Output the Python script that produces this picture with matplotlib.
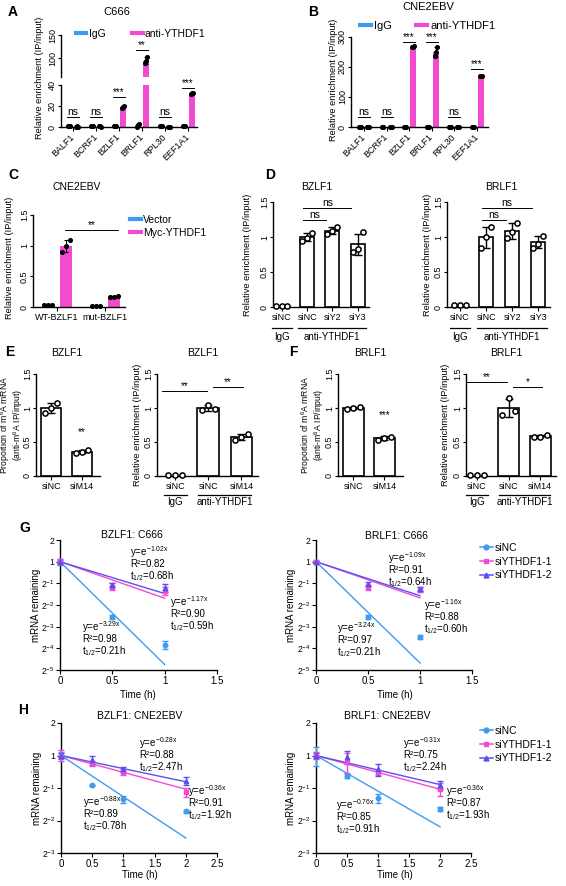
import numpy as np
import matplotlib
matplotlib.use("Agg")
import matplotlib.pyplot as plt
from matplotlib.lines import Line2D
from matplotlib.ticker import NullLocator

plt.rcParams['font.family'] = ['Liberation Sans', 'DejaVu Sans']
plt.rcParams['mathtext.fontset'] = 'custom'
plt.rcParams['mathtext.rm'] = 'Liberation Sans'
plt.rcParams['mathtext.it'] = 'Liberation Sans:italic'
plt.rcParams['axes.linewidth'] = 1.0

# ---
# data
# ---

blue = "#3d9cf2"
pink = "#f24bd0"
violet = "#5a50f0"

# A: RIP-qPCR, C666
a_genes = ["BALF1", "BCRF1", "BZLF1", "BRLF1", "RPL30", "EEF1A1"]
a_igg = [[0.9, 1.1, 1.0], [1.0, 1.2, 0.9], [0.8, 0.9, 1.0], [0.4, 1.8, 2.8], [0.7, 0.9, 0.8], [0.6, 0.8, 0.7]]
a_anti = [[0.3, 0.5, 0.4], [0.5, 0.6, 0.4], [18.5, 19.5, 20.2], [89, 95, 102], [0.2, 0.3, 0.2], [31.6, 32.0, 32.4]]
a_sig = ["ns", "ns", "***", "**", "ns", "***"]
a_sig_y = [9.5, 9.5, 28.5, 118, 9.5, 37]

# B: RIP-qPCR, CNE2EBV
b_genes = ["BALF1", "BCRF1", "BZLF1", "BRLF1", "RPL30", "EEF1A1"]
b_igg = [[1.0, 1.5, 1.2], [1.2, 1.0, 1.4], [1.0, 1.3, 1.1], [0.9, 1.2, 1.0], [1.1, 1.0, 1.3], [1.0, 1.2, 0.9]]
b_anti = [[1.2, 1.0, 1.3], [1.1, 1.4, 1.0], [265, 268, 271], [235, 250, 266], [1.3, 1.0, 1.2], [169, 170, 171]]
b_sig = ["ns", "ns", "***", "***", "ns", "***"]
b_sig_y = [33, 33, 283, 283, 33, 193]

# C: WT vs mut BZLF1
c_groups = ["WT-BZLF1", "mut-BZLF1"]
c_vector = [[0.03, 0.03, 0.03], [0.01, 0.01, 0.01]]
c_myc = [[0.9, 1.0, 1.1], [0.16, 0.17, 0.18]]

# D: YTHDF2/3 knockdown
d_labels = ["siNC", "siNC", "siY2", "siY3"]
d_bzlf1 = [[0.02, 0.02, 0.02], [0.95, 0.98, 1.06], [1.05, 1.08, 1.14], [0.78, 0.83, 1.07]]
d_brlf1 = [[0.03, 0.03, 0.03], [0.85, 1.0, 1.15], [0.98, 1.07, 1.2], [0.85, 0.9, 1.02]]
d_sig = [(1, 2, 1.24, "ns"), (1, 3, 1.41, "ns")]

# E/F: METTL14 knockdown
m6a_labels = ["siNC", "siM14"]
rip_labels = ["siNC", "siNC", "siM14"]
e_m6a = [[0.92, 1.0, 1.08], [0.34, 0.36, 0.38]]
e_m6a_sig = ("**", 0.57)
e_rip = [[0.01, 0.01, 0.01], [0.97, 1.05, 0.99], [0.53, 0.58, 0.62]]
e_rip_sig = [(0, 1, 1.25, "**"), (1, 2, 1.31, "**")]
f_m6a = [[0.98, 1.0, 1.02], [0.53, 0.56, 0.58]]
f_m6a_sig = ("***", 0.82)
f_rip = [[0.01, 0.01, 0.01], [0.9, 1.15, 0.95], [0.57, 0.58, 0.6]]
f_rip_sig = [(0, 1, 1.38, "**"), (1, 2, 1.31, "*")]

# G/H: mRNA decay
series = ["siNC", "siYTHDF1-1", "siYTHDF1-2"]
g_t = [0, 0.5, 1]
g_bz = [[1.0, 0.172, 0.070], [1.0, 0.45, 0.39], [1.0, 0.47, 0.435]]
g_bz_err = [[0.1, 0.01, 0.008], [0.08, 0.05, 0.05], [0.05, 0.03, 0.06]]
g_bz_k = [3.29, 1.17, 1.02]
g_bz_r2 = [0.98, 0.90, 0.82]
g_bz_half = [0.21, 0.59, 0.68]
g_br = [[1.0, 0.172, 0.090], [1.0, 0.44, 0.41], [1.0, 0.49, 0.42]]
g_br_err = [[0.04, 0.01, 0.005], [0.03, 0.04, 0.03], [0.03, 0.03, 0.03]]
g_br_k = [3.24, 1.16, 1.09]
g_br_r2 = [0.97, 0.88, 0.91]
g_br_half = [0.21, 0.60, 0.64]

h_t = [0, 0.5, 1, 2]
h_bz = [[1.0, 0.528, 0.392, 0.304], [1.0, 0.847, 0.702, 0.457], [1.0, 0.901, 0.742, 0.586]]
h_bz_err = [[0.08, 0.01, 0.03, 0.01], [0.12, 0.04, 0.04, 0.04], [0.06, 0.08, 0.04, 0.05]]
h_bz_k = [0.88, 0.36, 0.28]
h_bz_r2 = [0.89, 0.91, 0.88]
h_bz_half = [0.78, 1.92, 2.47]
h_br = [[1.0, 0.65, 0.403, 0.321], [1.0, 0.87, 0.70, 0.49], [1.0, 0.966, 0.742, 0.536]]
h_br_err = [[0.2, 0.03, 0.04, 0.015], [0.08, 0.18, 0.04, 0.07], [0.06, 0.14, 0.09, 0.05]]
h_br_k = [0.76, 0.36, 0.31]
h_br_r2 = [0.85, 0.87, 0.75]
h_br_half = [0.91, 1.93, 2.24]

# ---
# helpers
# ---

W, H = 566, 886
fig = plt.figure(figsize=(W / 100, H / 100), dpi=100)


def px_axes(x0, y0, x1, y1):
    return fig.add_axes([x0 / W, 1 - y1 / H, (x1 - x0) / W, (y1 - y0) / H])


def ftxt(x, y, s, **kw):
    kw.setdefault("ha", "center")
    kw.setdefault("va", "center")
    fig.text(x / W, 1 - y / H, s, **kw)


def style(ax, rot_y=True, ysize=6.5):
    for s in ["top", "right"]:
        ax.spines[s].set_visible(False)
    ax.tick_params(length=3, width=0.8, labelsize=ysize, pad=1.5)
    if rot_y:
        ax.tick_params(axis="y", length=2.5, pad=0.5)
        for t in ax.get_yticklabels():
            t.set_rotation(90)
            t.set_va("center")


def color_bar(ax, pos, pts, color, width, spread=0.15):
    pts = np.asarray(pts, float)
    m, sd = pts.mean(), pts.std(ddof=1)
    lo, hi = ax.get_ylim()
    ax.bar(pos, m, width, color=color, zorder=2)
    ax.errorbar(pos, m, yerr=sd, fmt="none", ecolor="black", elinewidth=0.8,
                capsize=1.5, capthick=0.8, zorder=3)
    xs = pos + np.array([-1, 0, 1]) * width * spread
    keep = (pts >= lo) & (pts <= hi)
    ax.scatter(xs[keep], pts[keep], s=7, color="black", zorder=4, clip_on=False)


def white_bar(ax, pos, pts, width, draw_bar=True):
    pts = np.asarray(pts, float)
    m, sd = pts.mean(), pts.std(ddof=1)
    if draw_bar:
        ax.bar(pos, m, width, facecolor="white", edgecolor="black", linewidth=1.2, zorder=2)
        ax.errorbar(pos, m, yerr=sd, fmt="none", ecolor="black", elinewidth=1.0,
                    capsize=3, capthick=1.0, zorder=3)
        dx = 0.2
    else:
        dx = 0.22
    ax.scatter(pos + np.array([-1, 0, 1]) * dx, pts, s=14, facecolor="white",
               edgecolor="black", linewidth=1.1, zorder=4, clip_on=False)


def sig_line(ax, x0, x1, y, label, fs=7):
    ax.plot([x0, x1], [y, y], color="black", lw=0.7, clip_on=False)
    ax.text((x0 + x1) / 2, y, label, ha="center", va="bottom", fontsize=fs)


def group_labels(ax, groups, y_line, y_text):
    tr = ax.get_xaxis_transform()
    for x0, x1, lab in groups:
        ax.plot([x0, x1], [y_line, y_line], color="black", lw=0.9, transform=tr, clip_on=False)
        ax.text((x0 + x1) / 2, y_text, lab, transform=tr, ha="center", va="top", fontsize=7)


# ---
# A
# ---
axA_b = px_axes(61, 85, 197, 127)
axA_t = px_axes(61, 35, 197, 77)
axA_b.set_ylim(0, 40)
axA_t.set_ylim(60, 150)
xa = np.arange(len(a_genes))
for ax in (axA_b, axA_t):
    for i in range(len(a_genes)):
        color_bar(ax, xa[i] - 0.18, a_igg[i], blue, 0.27)
        color_bar(ax, xa[i] + 0.18, a_anti[i], pink, 0.27)
    ax.set_xlim(-0.52, 5.4)
axA_b.set_ylim(0, 40)
axA_b.set_yticks([0, 20, 40])
axA_t.set_ylim(60, 150)
axA_t.set_yticks([100, 150])
axA_b.set_xticks(xa)
axA_b.set_xticklabels(a_genes, rotation=45, ha="right", va="center", rotation_mode="anchor", fontsize=7)
style(axA_b)
style(axA_t)
axA_t.spines["bottom"].set_visible(False)
axA_t.set_xticks([])
for i in range(len(a_genes)):
    ax = axA_t if a_sig_y[i] > 40 else axA_b
    sig_line(ax, xa[i] - 0.27, xa[i] + 0.27, a_sig_y[i], a_sig[i], fs=7.5 if a_sig[i] == "ns" else 7)
axA_b.tick_params(axis="x", pad=3)
ftxt(40, 78, "Relative enrichment (IP/input)", rotation=90, fontsize=6.7)
ftxt(117, 12, "C666", fontsize=8)
ftxt(13, 12, "A", fontsize=10, fontweight="bold")
fig.legend(handles=[Line2D([0], [0], color=blue, lw=3), Line2D([0], [0], color=pink, lw=3)],
           labels=["IgG", "anti-YTHDF1"], ncol=2, loc="center left", frameon=False,
           bbox_to_anchor=(76 / W, 1 - 34 / H), borderpad=0, borderaxespad=0,
           handlelength=1.0, handletextpad=0.2, columnspacing=2.6, fontsize=7.5)

# ---
# B
# ---
axB = px_axes(351, 37, 488, 127)
axB.set_ylim(0, 300)
xb = np.arange(len(b_genes))
for i in range(len(b_genes)):
    color_bar(axB, xb[i] - 0.18, b_igg[i], blue, 0.27)
    color_bar(axB, xb[i] + 0.18, b_anti[i], pink, 0.27)
    sig_line(axB, xb[i] - 0.27, xb[i] + 0.27, b_sig_y[i], b_sig[i], fs=7.5 if b_sig[i] == "ns" else 7)
axB.set_xlim(-0.58, 5.5)
axB.set_ylim(0, 300)
axB.set_yticks([0, 100, 200, 300])
axB.set_xticks(xb)
axB.set_xticklabels(b_genes, rotation=45, ha="right", va="center", rotation_mode="anchor", fontsize=7)
style(axB)
axB.tick_params(axis="x", pad=3)
ftxt(333, 80, "Relative enrichment (IP/input)", rotation=90, fontsize=6.7)
ftxt(428, 7, "CNE2EBV", fontsize=8)
ftxt(313, 12, "B", fontsize=10, fontweight="bold")
fig.legend(handles=[Line2D([0], [0], color=blue, lw=3), Line2D([0], [0], color=pink, lw=3)],
           labels=["IgG", "anti-YTHDF1"], ncol=2, loc="center left", frameon=False,
           bbox_to_anchor=(360 / W, 1 - 26 / H), borderpad=0, borderaxespad=0,
           handlelength=1.0, handletextpad=0.25, columnspacing=2.2, fontsize=8)

# ---
# C
# ---
axC = px_axes(33, 215, 125, 307)
axC.set_ylim(0, 1.5)
xc = np.arange(len(c_groups))
for i in range(len(c_groups)):
    color_bar(axC, xc[i] - 0.19, c_vector[i], blue, 0.26, spread=0.3)
    color_bar(axC, xc[i] + 0.19, c_myc[i], pink, 0.26, spread=0.3)
sig_line(axC, 0.17, 1.27, 1.25, "**")
axC.set_xlim(-0.5, 1.42)
axC.set_ylim(0, 1.5)
axC.set_yticks([0, 0.5, 1, 1.5])
axC.set_yticklabels(["0", "0.5", "1", "1.5"])
axC.set_xticks(xc)
axC.set_xticklabels(c_groups, fontsize=7)
style(axC)
ftxt(10, 258, "Relative enrichment (IP/input)", rotation=90, fontsize=6.7)
ftxt(77, 187, "CNE2EBV", fontsize=7.5)
ftxt(13, 175, "C", fontsize=10, fontweight="bold")
fig.legend(handles=[Line2D([0], [0], color=blue, lw=3), Line2D([0], [0], color=pink, lw=3)],
           labels=["Vector", "Myc-YTHDF1"], loc="upper left", frameon=False,
           bbox_to_anchor=(130 / W, 1 - 215 / H), borderpad=0, borderaxespad=0,
           handlelength=1.1, handletextpad=0.15, labelspacing=0.3, fontsize=7.5)

# ---
# D
# ---
xd = np.arange(len(d_labels))
for box, vals, title, ylab_x, title_x, xlo in [((273, 202, 369, 307), d_bzlf1, "BZLF1", 247, 317, -0.35),
                                               ((447, 202, 550, 307), d_brlf1, "BRLF1", 428, 501, -0.5)]:
    ax = px_axes(*box)
    ax.set_ylim(0, 1.5)
    for i in range(len(d_labels)):
        white_bar(ax, xd[i], vals[i], 0.55, draw_bar=i > 0)
    for i, j, y, lab in d_sig:
        sig_line(ax, xd[i] - 0.15, xd[j] - 0.25, y, lab, fs=7.5)
    ax.set_xlim(xlo, 3.45)
    ax.set_ylim(0, 1.5)
    ax.set_yticks([0, 0.5, 1, 1.5])
    ax.set_yticklabels(["0", "0.5", "1", "1.5"])
    ax.set_xticks(xd)
    ax.set_xticklabels(d_labels, fontsize=7)
    style(ax)
    group_labels(ax, [(-0.4, 0.4, "IgG"), (0.65, 3.35, "anti-YTHDF1")], -0.2, -0.235)
    ftxt(ylab_x, 255, "Relative enrichment (IP/input)", rotation=90, fontsize=6.7)
    ftxt(title_x, 187, title, fontsize=7.5)
ftxt(270, 175, "D", fontsize=10, fontweight="bold")

# ---
# E / F
# ---
for m6a_box, rip_box, rip_xlo, m6a, m6a_sig, rip, rip_sig, title, m6a_lab_x, rip_lab_x, t1, t2, letter, lx in [
        ((36, 374, 100, 476), (157, 374, 258, 476), -0.55, e_m6a, e_m6a_sig, e_rip, e_rip_sig, "BZLF1",
         12, 137, 67, 203, "E", 10),
        ((338, 374, 403, 476), (466, 374, 556, 476), -0.35, f_m6a, f_m6a_sig, f_rip, f_rip_sig, "BRLF1",
         313, 446, 370, 506, "F", 293)]:
    ax = px_axes(*m6a_box)
    ax.set_ylim(0, 1.5)
    xm = np.arange(len(m6a_labels))
    for i in range(len(m6a_labels)):
        white_bar(ax, xm[i], m6a[i], 0.66)
    ax.text(xm[1], m6a_sig[1], m6a_sig[0], ha="center", va="bottom", fontsize=7)
    ax.set_xlim(-0.5, 1.6)
    ax.set_ylim(0, 1.5)
    ax.set_yticks([0, 0.5, 1, 1.5])
    ax.set_yticklabels(["0", "0.5", "1", "1.5"])
    ax.set_xticks(xm)
    ax.set_xticklabels(m6a_labels, fontsize=7)
    style(ax)
    ftxt(m6a_lab_x, 425, "Proportion of m$^6$A mRNA\n(anti-m$^6$A IP/input)", rotation=90,
         fontsize=6.2, linespacing=0.9, multialignment="center")
    ftxt(t1, 353, title, fontsize=7.5)

    ax = px_axes(*rip_box)
    ax.set_ylim(0, 1.5)
    xr = np.arange(len(rip_labels))
    for i in range(len(rip_labels)):
        white_bar(ax, xr[i], rip[i], 0.66, draw_bar=i > 0)
    for i, j, y, lab in rip_sig:
        sig_line(ax, max(xr[i] - 0.4 + 0.55 * i, rip_xlo), xr[j] - 0.05 + 0.1 * i, y, lab)
    ax.set_xlim(rip_xlo, 2.5)
    ax.set_ylim(0, 1.5)
    ax.set_yticks([0, 0.5, 1, 1.5])
    ax.set_yticklabels(["0", "0.5", "1", "1.5"])
    ax.set_xticks(xr)
    ax.set_xticklabels(rip_labels, fontsize=7)
    style(ax)
    group_labels(ax, [(-0.35, 0.35, "IgG"), (0.7, 2.3, "anti-YTHDF1")], -0.185, -0.205)
    ftxt(rip_lab_x, 425, "Relative enrichment (IP/input)", rotation=90, fontsize=6.7)
    ftxt(t2, 353, title, fontsize=7.5)
    ftxt(lx, 352, letter, fontsize=10, fontweight="bold")

# ---
# G / H
# ---
colors = [blue, pink, violet]
markers = ["o", "s", "^"]


def decay_panel(box, t, vals, errs, ks, r2s, halves, text_pos, title, title_xy,
                xmax, xticks, ymin_exp, xlab_xy, ylab_x):
    ax = px_axes(*box)
    t = np.asarray(t, float)
    tt = np.array([0, t[-1]])
    for s in range(len(series)):
        ax.errorbar(t, vals[s], yerr=errs[s], fmt=markers[s], color=colors[s], ms=3.2,
                    elinewidth=1.0, capsize=2, capthick=1.0, zorder=3, clip_on=False)
    for s in range(len(series)):
        ax.plot(tt, np.exp(-ks[s] * tt), color=colors[s], lw=1.0, zorder=2)
    ax.set_yscale("log", base=2)
    ax.set_ylim(2.0 ** ymin_exp, 2)
    yt = [2.0 ** e for e in range(ymin_exp, 2)]
    ylabs = ["$2^{%d}$" % e for e in range(ymin_exp, 0)] + ["1", "2"]
    ax.set_yticks(yt)
    ax.set_yticklabels(ylabs)
    ax.yaxis.set_minor_locator(NullLocator())
    ax.set_xlim(0, xmax)
    ax.set_xticks(xticks)
    ax.set_xticklabels(["%g" % v for v in xticks])
    style(ax, rot_y=False, ysize=7)
    ax.tick_params(axis="y", labelsize=6.3, pad=1)
    for s in range(len(series)):
        x0, y0 = text_pos[s]
        ftxt(x0, y0, "y=e$^{\\mathrm{-%.2fx}}$" % ks[s], ha="left", fontsize=7)
        ftxt(x0, y0 + 12, "R²=%.2f" % r2s[s], ha="left", fontsize=7)
        ftxt(x0, y0 + 24, "t$_{1/2}$=%.2fh" % halves[s], ha="left", fontsize=7)
    ftxt(title_xy[0], title_xy[1], title, fontsize=7.5)
    ftxt(xlab_xy[0], xlab_xy[1], "Time (h)", fontsize=7)
    ftxt(ylab_x, (box[1] + box[3]) / 2, "mRNA remaining", rotation=90, fontsize=7)
    return ax


decay_panel((60, 540, 217, 670), g_t, g_bz, g_bz_err, g_bz_k, g_bz_r2, g_bz_half,
            [(82, 627), (170, 602), (130, 552)], "BZLF1: C666", (132, 535),
            1.5, [0, 0.5, 1, 1.5], -5, (138, 695), 36)
decay_panel((316, 540, 472, 670), g_t, g_br, g_br_err, g_br_k, g_br_r2, g_br_half,
            [(337, 628), (424, 605), (388, 558)], "BRLF1: C666", (396, 536),
            1.5, [0, 0.5, 1, 1.5], -5, (395, 695), 291)
decay_panel((61, 723, 217, 853), h_t, h_bz, h_bz_err, h_bz_k, h_bz_r2, h_bz_half,
            [(83, 802), (188, 791), (139, 743)], "BZLF1: CNE2EBV", (140, 716),
            2.5, [0, 0.5, 1, 1.5, 2, 2.5], -3, (140, 875), 37)
decay_panel((316, 723, 471, 853), h_t, h_br, h_br_err, h_br_k, h_br_r2, h_br_half,
            [(336, 805), (446, 791), (403, 743)], "BRLF1: CNE2EBV", (387, 716),
            2.5, [0, 0.5, 1, 1.5, 2, 2.5], -3, (395, 875), 291)
ftxt(25, 528, "G", fontsize=10, fontweight="bold")
ftxt(23, 710, "H", fontsize=10, fontweight="bold")

handles = [Line2D([0], [0], color=colors[s], marker=markers[s], ms=3.5, lw=1.1) for s in range(3)]
for y in (543, 726):
    fig.legend(handles=handles, labels=series, loc="upper left", frameon=False,
               bbox_to_anchor=(480 / W, 1 - y / H), borderpad=0, borderaxespad=0,
               handlelength=1.2, handletextpad=0.2, labelspacing=0.35, fontsize=7.5)

fig.savefig("out.png", dpi=100)
